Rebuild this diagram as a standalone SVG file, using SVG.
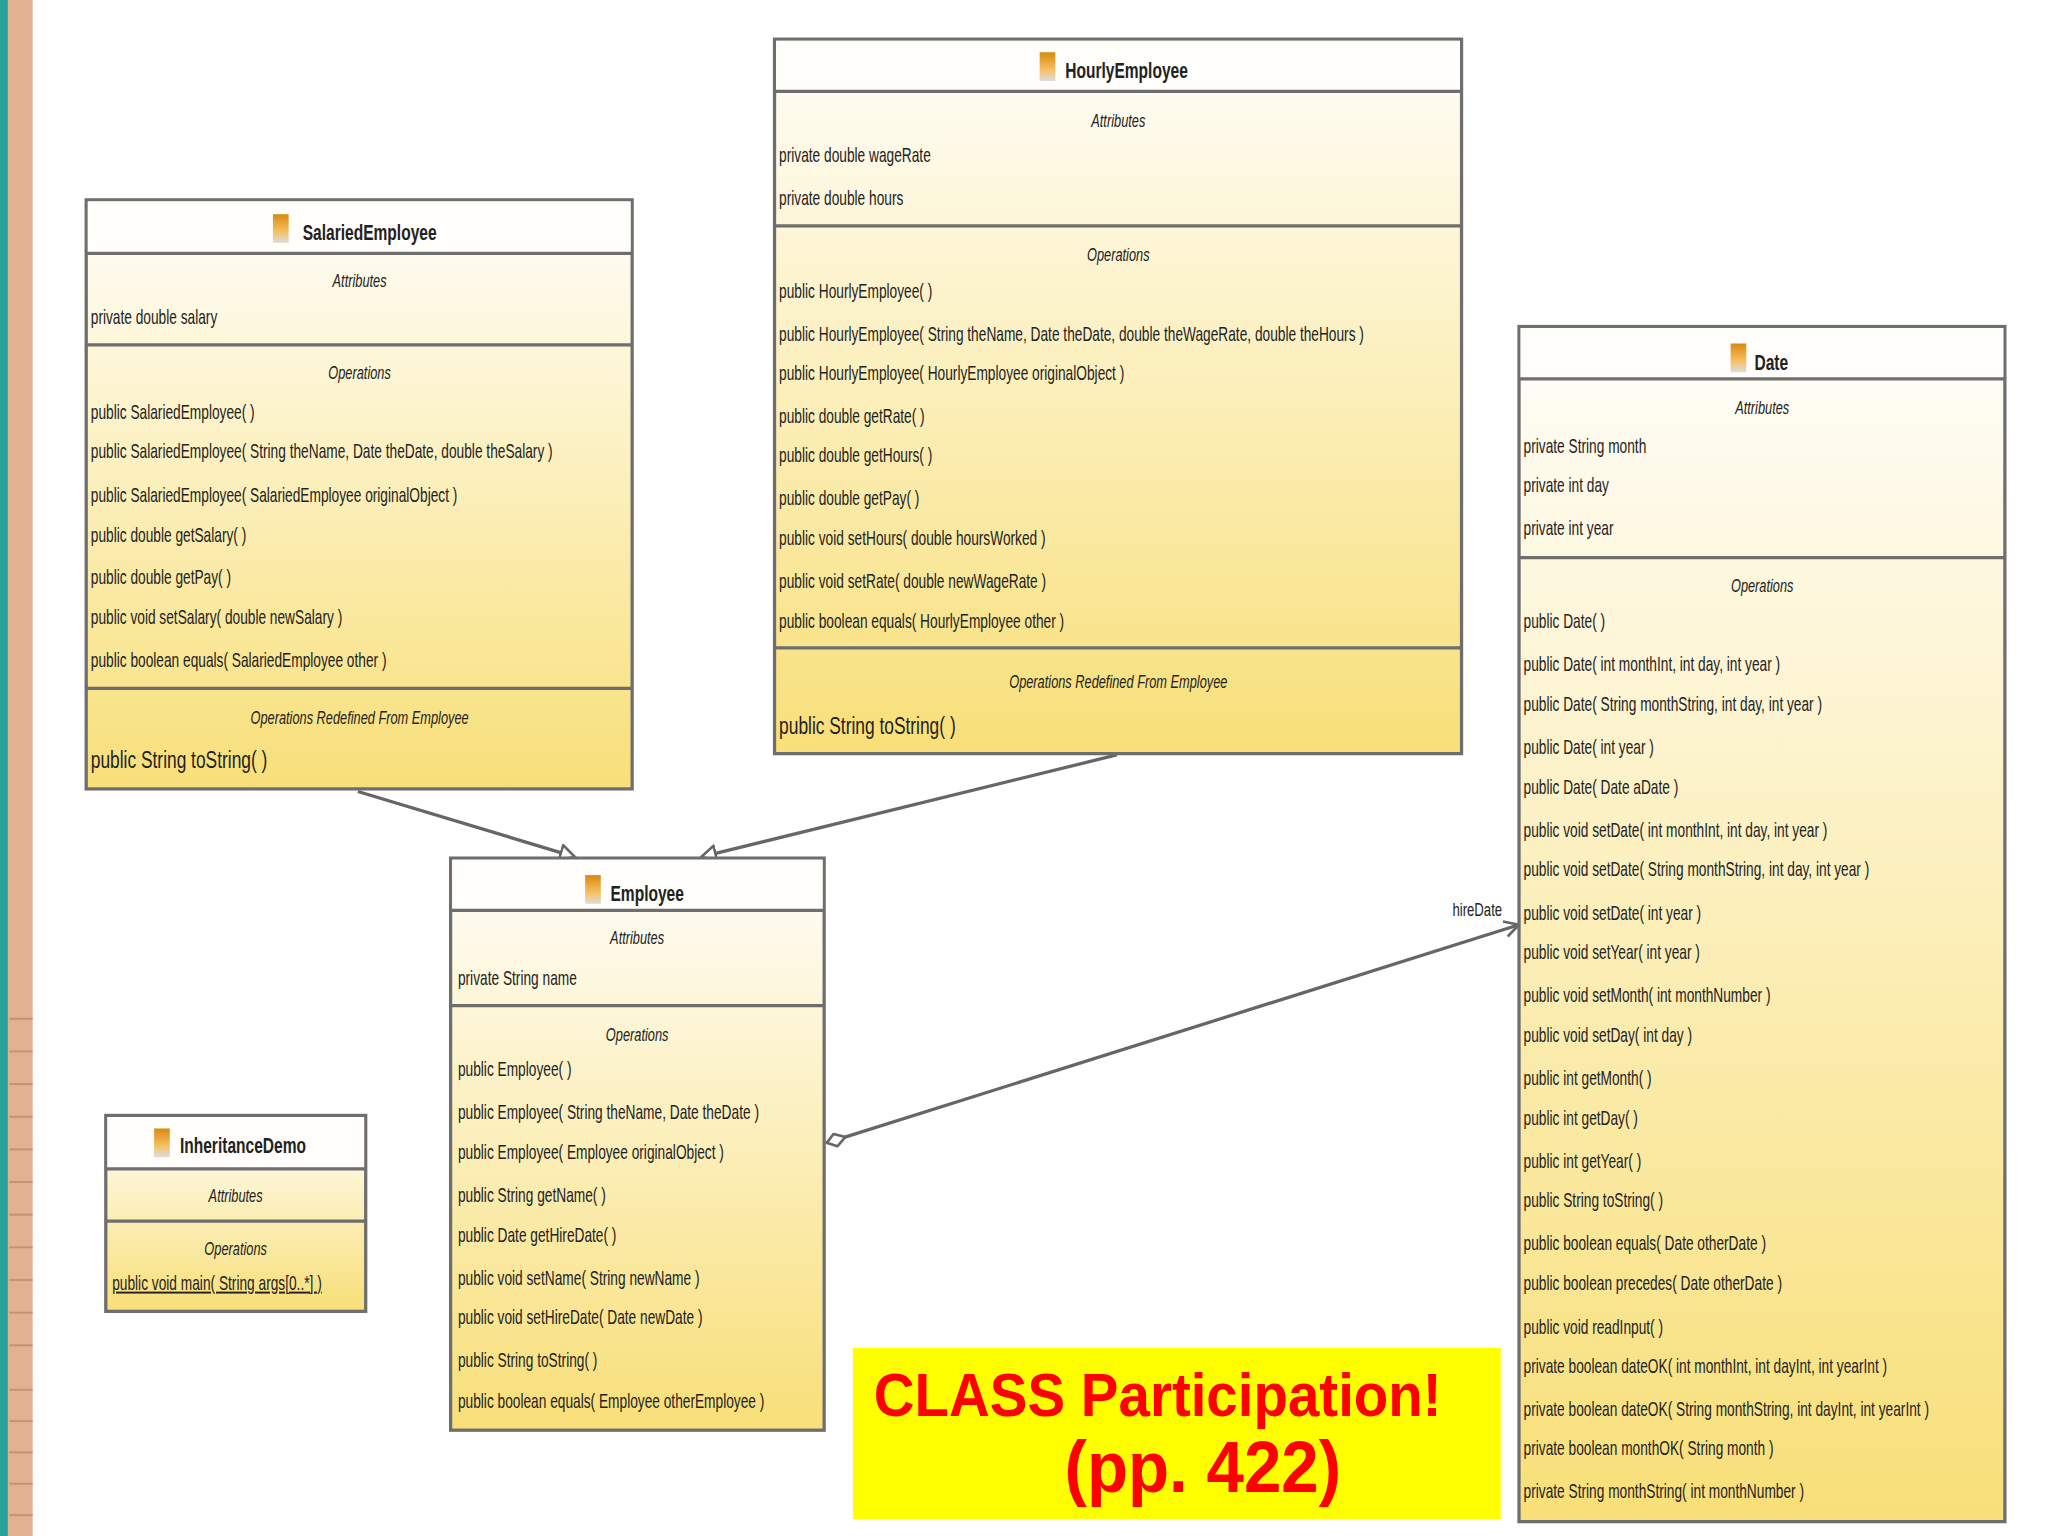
<svg xmlns="http://www.w3.org/2000/svg" width="2048" height="1536" viewBox="0 0 2048 1536">
<style>
.box{stroke:#6e6e6e;stroke-width:2.5;fill:url(#g)}
.hd{fill:#fffefb}
.dv{stroke:#6e6e6e;stroke-width:2.5}
text{font-family:"Liberation Sans",Arial,sans-serif;fill:#222;font-size:15px}
.t{font-weight:bold;font-size:17px;text-anchor:middle}
.c{font-style:italic;text-anchor:middle;font-size:14px}
.big{font-size:19px}
.con{stroke:#666;stroke-width:2.5;fill:none}
.note{font-size:47px;font-weight:bold;fill:#ff0000}
.note2{font-size:56px;font-weight:bold;fill:#ff0000}
.lbl{font-size:14px}
</style>
<defs>
<linearGradient id="g" x1="0" y1="0" x2="0" y2="1"><stop offset="0" stop-color="#fffefa"/><stop offset="1" stop-color="#f8df78"/></linearGradient>
<linearGradient id="ic" x1="0" y1="0" x2="0" y2="1"><stop offset="0" stop-color="#d88a10"/><stop offset="0.6" stop-color="#f6c060"/><stop offset="1" stop-color="#ddd"/></linearGradient>
<marker id="tri" markerWidth="14" markerHeight="14" refX="12" refY="7" orient="auto" markerUnits="userSpaceOnUse"><path d="M1,1 L12,7 L1,13 Z" fill="#fff" stroke="#666" stroke-width="2"/></marker>
<marker id="open" markerWidth="14" markerHeight="14" refX="12" refY="7" orient="auto" markerUnits="userSpaceOnUse"><path d="M1,1 L12,7 L1,13" fill="none" stroke="#666" stroke-width="2"/></marker>
<marker id="dia" markerWidth="18" markerHeight="12" refX="1" refY="6" orient="auto" markerUnits="userSpaceOnUse"><path d="M1,6 L8,1 L16,6 L8,11 Z" fill="#fff" stroke="#666" stroke-width="2"/></marker>
</defs>
<rect width="2048" height="1536" fill="#fff"/>
<g transform="scale(1.30612)">
<rect x="0" y="0" width="25" height="1176" fill="#e2b192"/>
<rect x="0" y="0" width="6" height="1176" fill="#2aa39b"/>
<g stroke="#c89078" stroke-width="1.5">
<line x1="7" y1="1064" x2="25" y2="1064"/><line x1="7" y1="1088" x2="25" y2="1088"/><line x1="7" y1="1112" x2="25" y2="1112"/><line x1="7" y1="1136" x2="25" y2="1136"/><line x1="7" y1="1160" x2="25" y2="1160"/>
<line x1="7" y1="780" x2="25" y2="780"/><line x1="7" y1="805" x2="25" y2="805"/><line x1="7" y1="830" x2="25" y2="830"/><line x1="7" y1="855" x2="25" y2="855"/><line x1="7" y1="880" x2="25" y2="880"/><line x1="7" y1="905" x2="25" y2="905"/><line x1="7" y1="930" x2="25" y2="930"/><line x1="7" y1="955" x2="25" y2="955"/><line x1="7" y1="980" x2="25" y2="980"/><line x1="7" y1="1005" x2="25" y2="1005"/><line x1="7" y1="1030" x2="25" y2="1030"/>
</g>

<g id="connectors">
<line class="con" x1="274" y1="606" x2="440" y2="656" marker-end="url(#tri)"/>
<line class="con" x1="855" y1="578" x2="537" y2="656" marker-end="url(#tri)"/>
<line class="con" x1="633" y1="875" x2="1163" y2="708" marker-start="url(#dia)" marker-end="url(#open)"/>
<g transform="translate(1112,0) scale(0.72,1)"><text class="lbl" x="0" y="701">hireDate</text></g>
</g>

<g id="SalariedEmployee">
<rect class="box" x="66" y="153" width="418" height="451"/>
<rect class="hd" x="67.2" y="154.2" width="415.6" height="39"/>
<line class="dv" x1="66" y1="194" x2="484" y2="194"/><line class="dv" x1="66" y1="264" x2="484" y2="264"/><line class="dv" x1="66" y1="527" x2="484" y2="527"/>
<rect x="209" y="164" width="12" height="22" fill="url(#ic)"/>
<g transform="translate(66,0) scale(0.7,1)">
<text class="t" x="310" y="184">SalariedEmployee</text>
<text class="c" x="299" y="220">Attributes</text>
<text x="5" y="248">private double salary</text>
<text class="c" x="299" y="290">Operations</text>
<text x="5" y="321">public SalariedEmployee( )</text>
<text x="5" y="351">public SalariedEmployee( String theName, Date theDate, double theSalary )</text>
<text x="5" y="384">public SalariedEmployee( SalariedEmployee originalObject )</text>
<text x="5" y="415">public double  getSalary( )</text>
<text x="5" y="447">public double  getPay( )</text>
<text x="5" y="478">public void  setSalary( double newSalary )</text>
<text x="5" y="511">public boolean  equals( SalariedEmployee other )</text>
<text class="c" x="299" y="554">Operations Redefined From Employee</text>
<text class="big" x="5" y="588">public String  toString( )</text>
</g>
</g>

<g id="HourlyEmployee">
<rect class="box" x="593" y="30" width="526" height="547"/>
<rect class="hd" x="594.2" y="31.2" width="523.6" height="38"/>
<line class="dv" x1="593" y1="70" x2="1119" y2="70"/><line class="dv" x1="593" y1="173" x2="1119" y2="173"/><line class="dv" x1="593" y1="496" x2="1119" y2="496"/>
<rect x="796" y="40" width="12" height="22" fill="url(#ic)"/>
<g transform="translate(593,0) scale(0.7,1)">
<text class="t" x="385" y="60">HourlyEmployee</text>
<text class="c" x="376" y="97">Attributes</text>
<text x="5" y="124">private double wageRate</text>
<text x="5" y="157">private double hours</text>
<text class="c" x="376" y="200">Operations</text>
<text x="5" y="228">public HourlyEmployee( )</text>
<text x="5" y="261">public HourlyEmployee( String theName, Date theDate, double theWageRate, double theHours )</text>
<text x="5" y="291">public HourlyEmployee( HourlyEmployee originalObject )</text>
<text x="5" y="324">public double  getRate( )</text>
<text x="5" y="354">public double  getHours( )</text>
<text x="5" y="387">public double  getPay( )</text>
<text x="5" y="417">public void  setHours( double hoursWorked )</text>
<text x="5" y="450">public void  setRate( double newWageRate )</text>
<text x="5" y="481">public boolean  equals( HourlyEmployee other )</text>
<text class="c" x="376" y="527">Operations Redefined From Employee</text>
<text class="big" x="5" y="562">public String  toString( )</text>
</g>
</g>

<g id="Date">
<rect class="box" x="1163" y="250" width="372" height="915"/>
<rect class="hd" x="1164.2" y="251.2" width="369.6" height="38"/>
<line class="dv" x1="1163" y1="290" x2="1535" y2="290"/><line class="dv" x1="1163" y1="427" x2="1535" y2="427"/>
<rect x="1325" y="263" width="12" height="22" fill="url(#ic)"/>
<g transform="translate(1163,0) scale(0.7,1)">
<text class="t" x="276" y="283">Date</text>
<text class="c" x="266" y="317">Attributes</text>
<text x="5" y="347">private String month</text>
<text x="5" y="377">private int day</text>
<text x="5" y="410">private int year</text>
<text class="c" x="266" y="453">Operations</text>
<text x="5" y="481">public Date( )</text>
<text x="5" y="514">public Date( int monthInt, int day, int year )</text>
<text x="5" y="544">public Date( String monthString, int day, int year )</text>
<text x="5" y="577">public Date( int year )</text>
<text x="5" y="608">public Date( Date aDate )</text>
<text x="5" y="641">public void  setDate( int monthInt, int day, int year )</text>
<text x="5" y="671">public void  setDate( String monthString, int day, int year )</text>
<text x="5" y="704">public void  setDate( int year )</text>
<text x="5" y="734">public void  setYear( int year )</text>
<text x="5" y="767">public void  setMonth( int monthNumber )</text>
<text x="5" y="798">public void  setDay( int day )</text>
<text x="5" y="831">public int  getMonth( )</text>
<text x="5" y="861">public int  getDay( )</text>
<text x="5" y="894">public int  getYear( )</text>
<text x="5" y="924">public String  toString( )</text>
<text x="5" y="957">public boolean  equals( Date otherDate )</text>
<text x="5" y="988">public boolean  precedes( Date otherDate )</text>
<text x="5" y="1021">public void  readInput( )</text>
<text x="5" y="1051">private boolean  dateOK( int monthInt, int dayInt, int yearInt )</text>
<text x="5" y="1084">private boolean  dateOK( String monthString, int dayInt, int yearInt )</text>
<text x="5" y="1114">private boolean  monthOK( String month )</text>
<text x="5" y="1147">private String  monthString( int monthNumber )</text>
</g>
</g>

<g id="Employee">
<rect class="box" x="345" y="657" width="286" height="438"/>
<rect class="hd" x="346.2" y="658.2" width="283.6" height="38"/>
<line class="dv" x1="345" y1="697" x2="631" y2="697"/><line class="dv" x1="345" y1="770" x2="631" y2="770"/>
<rect x="448" y="670" width="12" height="22" fill="url(#ic)"/>
<g transform="translate(345,0) scale(0.7,1)">
<text class="t" x="215" y="690">Employee</text>
<text class="c" x="204" y="723">Attributes</text>
<text x="8" y="754">private String name</text>
<text class="c" x="204" y="797">Operations</text>
<text x="8" y="824">public Employee( )</text>
<text x="8" y="857">public Employee( String theName, Date theDate )</text>
<text x="8" y="887">public Employee( Employee originalObject )</text>
<text x="8" y="920">public String  getName( )</text>
<text x="8" y="951">public Date  getHireDate( )</text>
<text x="8" y="984">public void  setName( String newName )</text>
<text x="8" y="1014">public void  setHireDate( Date newDate )</text>
<text x="8" y="1047">public String  toString( )</text>
<text x="8" y="1078">public boolean  equals( Employee otherEmployee )</text>
</g>
</g>

<g id="InheritanceDemo">
<rect class="box" x="81" y="854" width="199" height="150"/>
<rect class="hd" x="82.2" y="855.2" width="196.6" height="39"/>
<line class="dv" x1="81" y1="895" x2="280" y2="895"/><line class="dv" x1="81" y1="935" x2="280" y2="935"/>
<rect x="118" y="864" width="12" height="22" fill="url(#ic)"/>
<g transform="translate(81,0) scale(0.7,1)">
<text class="t" x="150" y="883">InheritanceDemo</text>
<text class="c" x="142" y="920">Attributes</text>
<text class="c" x="142" y="961">Operations</text>
<text x="7" y="988" text-decoration="underline">public void  main( String args[0..*] )</text>
</g>
</g>

<g id="note">
<rect x="653" y="1032" width="496" height="131" fill="#ffff00"/>
<g transform="translate(669,0) scale(0.92,1)"><text class="note" x="0" y="1084">CLASS Participation!</text></g>
<g transform="translate(815,0) scale(0.92,1)"><text class="note2" x="0" y="1142">(pp. 422)</text></g>
</g>
</g>
</svg>
